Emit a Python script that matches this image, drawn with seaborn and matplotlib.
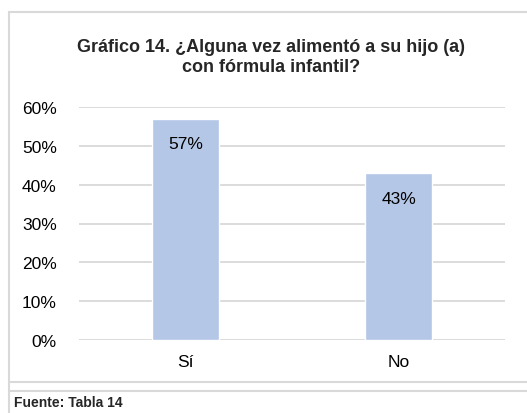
import matplotlib
matplotlib.use('Agg')
import matplotlib.pyplot as plt
import seaborn as sns
import pandas as pd
from matplotlib.lines import Line2D

# Data
categorias = ["Sí", "No"]
valores = [0.57, 0.43]
etiquetas = ["57%", "43%"]
yticks = [0, 0.1, 0.2, 0.3, 0.4, 0.5, 0.6]
ytick_labels = ["0%", "10%", "20%", "30%", "40%", "50%", "60%"]

titulo = "Gráfico 14. ¿Alguna vez alimentó a su hijo (a)\ncon fórmula infantil?"
fuente = "Fuente: Tabla 14"

df = pd.DataFrame({"cat": categorias, "val": valores})

sns.set_theme(style="white")
plt.rcParams['font.family'] = ['Liberation Sans', 'DejaVu Sans']

W, H = 527, 414
fig = plt.figure(figsize=(W / 100, H / 100), dpi=100)
ax = fig.add_axes([79 / W, 1 - 341 / H, (505 - 79) / W, (341 - 108) / H])

sns.barplot(data=df, x="cat", y="val", color="#B4C7E7", saturation=1,
            width=0.315, ax=ax, zorder=3)

ax.set_ylim(0, 0.6)
ax.set_xlim(-0.5, 1.5)
ax.set_yticks(yticks)
ax.set_yticklabels(ytick_labels)
ax.set_xlabel("")
ax.set_ylabel("")
ax.yaxis.grid(True, color="#D9D9D9", linewidth=1.3, zorder=0)
ax.set_axisbelow(True)
for s in ax.spines.values():
    s.set_visible(False)
ax.tick_params(axis="both", length=0, labelsize=12.5, colors="#000000")
ax.tick_params(axis="y", pad=16)
ax.tick_params(axis="x", pad=10)

for i, (v, lab) in enumerate(zip(valores, etiquetas)):
    ax.annotate(lab, xy=(i, v), xytext=(0, -18), textcoords="offset points",
                ha="center", va="center", fontsize=12.5, color="#000000")

fig.text(0.515, 1 - 57.5 / H, titulo, ha="center", va="center", fontsize=13,
         fontweight="bold", linespacing=1.25)
fig.text(14 / W, 1 - 403 / H, fuente, ha="left", va="center", fontsize=10,
         fontweight="bold")

# chart frame lines
gris = "#D9D9D9"
def px_line(x0, y0, x1, y1):
    fig.add_artist(Line2D([x0 / W, x1 / W], [1 - y0 / H, 1 - y1 / H],
                          transform=fig.transFigure, color=gris, linewidth=1.5))

px_line(8.5, 12.5, W, 12.5)
px_line(8.5, 12.5, 8.5, H)
px_line(8.5, 382.5, W, 382.5)
px_line(8.5, 391.5, W, 391.5)

fig.savefig("out.png", dpi=100)
